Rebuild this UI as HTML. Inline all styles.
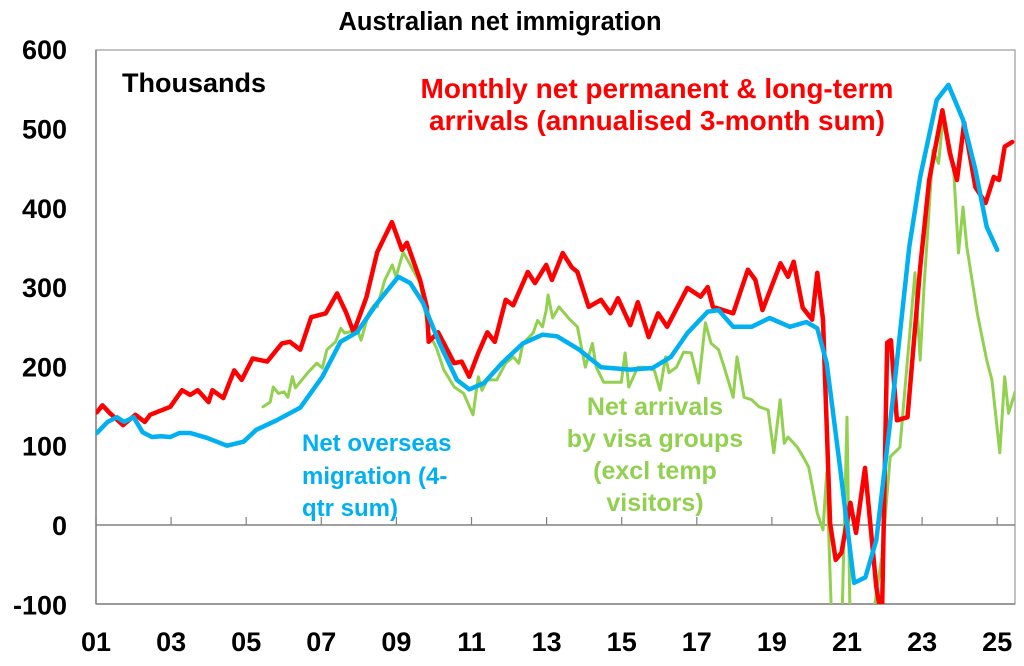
<!DOCTYPE html>
<html><head><meta charset="utf-8"><style>
html,body{margin:0;padding:0;background:#fff;}
svg text{font-family:"Liberation Sans",Arial,sans-serif;font-weight:bold;}
</style></head><body>
<svg id="chart" width="1024" height="661" viewBox="0 0 1024 661" xmlns="http://www.w3.org/2000/svg">
<defs><clipPath id="plotclip"><rect x="96" y="50" width="919" height="554"/></clipPath></defs>
<text x="500" y="30" font-size="25.5" text-anchor="middle" fill="#000">Australian net immigration</text>
<g id="axes"></g>
<g id="series" clip-path="url(#plotclip)"></g>
<text x="122" y="92" font-size="27" fill="#000">Thousands</text>
<g fill="#ff0000" font-size="28" text-anchor="middle">
<text x="657" y="98">Monthly net permanent &amp; long-term</text>
<text x="657" y="130">arrivals (annualised 3-month sum)</text>
</g>
<g fill="#00b0f0" font-size="24">
<text x="302" y="451">Net overseas</text>
<text x="302" y="484">migration (4-</text>
<text x="302" y="516">qtr sum)</text>
</g>
<g fill="#92d050" font-size="25" text-anchor="middle">
<text x="655" y="415">Net arrivals</text>
<text x="655" y="447">by visa groups</text>
<text x="655" y="479">(excl temp</text>
<text x="655" y="511">visitors)</text>
</g>
</svg>
<script>
const yTicks = [600, 500, 400, 300, 200, 100, 0, -100];
const xTickYears = [2001,2003,2005,2007,2009,2011,2013,2015,2017,2019,2021,2023,2025];
const xTickLabels = ["01","03","05","07","09","11","13","15","17","19","21","23","25"];

const redT = [2001.02,2001.17,2001.37,2001.72,2002.05,2002.30,2002.44,2002.98,2003.29,2003.51,2003.71,2004.0,2004.1,2004.39,2004.68,2004.88,2005.17,2005.56,2005.95,2006.16,2006.44,2006.73,2007.12,2007.42,2007.66,2007.86,2008.2,2008.49,2008.88,2009.15,2009.28,2009.63,2009.81,2009.86,2010.11,2010.54,2010.74,2010.94,2011.18,2011.42,2011.62,2011.91,2012.11,2012.5,2012.69,2012.99,2013.14,2013.28,2013.43,2013.67,2013.82,2014.12,2014.45,2014.7,2014.9,2015.23,2015.43,2015.72,2015.97,2016.21,2016.75,2017.1,2017.29,2017.43,2017.97,2018.36,2018.56,2018.75,2019.23,2019.43,2019.58,2019.82,2020.07,2020.21,2020.36,2020.55,2020.7,2020.85,2021.09,2021.24,2021.48,2021.78,2021.93,2022.07,2022.17,2022.33,2022.61,2022.95,2023.19,2023.54,2023.74,2023.93,2024.12,2024.42,2024.69,2024.91,2025.05,2025.2,2025.4];
const redV = [142,151,141,126,139,130,139,149,170,164,170,155,170,160,195,183,210,206,229,231,221,262,267,292,268,243,287,344,382,347,356,309,275,231,243,204,206,187,217,243,231,284,277,319,305,328,309,325,343,325,319,275,284,267,286,252,281,237,267,250,299,288,300,275,267,322,309,271,330,313,332,274,259,318,259,2,-44,-35,28,-10,72,-78,-120,230,233,132,136,325,435,523,469,435,507,426,406,439,435,477,483];

const blueT = [2001.02,2001.31,2001.56,2001.75,2002.0,2002.24,2002.49,2002.73,2002.98,2003.22,2003.51,2003.95,2004.49,2004.93,2005.27,2005.81,2006.44,2007.03,2007.51,2007.95,2008.49,2009.05,2009.37,2009.71,2010.15,2010.61,2010.94,2011.33,2011.81,2012.37,2012.89,2013.28,2013.87,2014.45,2015.23,2015.82,2016.31,2016.75,2017.29,2017.58,2017.97,2018.46,2018.94,2019.48,2019.92,2020.21,2020.46,2020.8,2021.19,2021.49,2021.78,2022.22,2022.66,2022.95,2023.39,2023.7,2024.09,2024.42,2024.72,2025.0];
const blueV = [116,130,136,130,136,117,111,112,111,116,116,110,100,105,120,132,148,187,231,243,280,313,305,280,229,183,171,179,204,229,240,238,221,199,196,198,212,242,269,271,250,250,261,250,256,248,204,78,-73,-66,-19,158,351,439,536,555,511,448,376,347];

const greenT = [2005.45,2005.64,2005.72,2005.86,2006.01,2006.11,2006.23,2006.31,2006.64,2006.88,2007.03,2007.15,2007.38,2007.52,2007.62,2007.96,2008.06,2008.26,2008.4,2008.49,2008.69,2008.89,2008.99,2009.18,2009.37,2009.63,2009.86,2010.06,2010.26,2010.54,2010.79,2011.04,2011.18,2011.28,2011.42,2011.67,2011.91,2012.11,2012.26,2012.37,2012.64,2012.76,2012.89,2012.99,2013.04,2013.16,2013.33,2013.62,2013.82,2014.03,2014.22,2014.32,2014.52,2014.99,2015.09,2015.19,2015.43,2015.63,2015.87,2016.02,2016.17,2016.26,2016.46,2016.65,2016.85,2017.05,2017.23,2017.38,2017.58,2017.73,2017.97,2018.07,2018.26,2018.46,2018.66,2018.9,2019.05,2019.22,2019.33,2019.43,2019.68,2019.83,2019.98,2020.21,2020.36,2020.46,2020.61,2020.85,2021.0,2021.09,2021.58,2021.93,2022.15,2022.41,2022.81,2022.95,2023.05,2023.29,2023.44,2023.54,2023.74,2023.84,2023.97,2024.09,2024.19,2024.47,2024.72,2024.86,2025.07,2025.2,2025.3,2025.48];
const greenV = [149,155,174,166,168,161,187,173,192,204,198,221,231,248,242,246,233,267,277,275,309,328,313,344,328,305,242,224,196,174,166,139,187,170,183,183,204,212,204,229,242,258,250,271,290,261,275,259,250,199,229,199,180,180,217,174,199,199,195,170,212,192,199,218,217,179,255,229,221,199,161,212,161,158,149,145,91,158,103,111,98,86,73,15,-6,66,-150,-150,136,-150,-150,-40,86,98,318,208,300,473,456,507,477,448,343,401,351,267,208,183,91,187,141,168];

const X0 = 96, PXY = 37.55, Y0 = 525, PXV = 0.793;
function xScale(t){ return X0 + (t - 2001) * PXY; }
function yScale(v){ return Y0 - v * PXV; }
const NS = "http://www.w3.org/2000/svg";
const axes = document.getElementById('axes');
const series = document.getElementById('series');
function mk(tag, attrs, parent){ const e = document.createElementNS(NS, tag); for (const k in attrs) e.setAttribute(k, attrs[k]); parent.appendChild(e); return e; }

let fr = mk('rect', {x:96, y:50, width:919, height:554, fill:'none', stroke:'#9a9a9a', 'stroke-width':1.2}, axes);


let ya = mk('line', {x1:96, y1:50, x2:96, y2:604, stroke:'#808080', 'stroke-width':1.5}, axes);


let xa = mk('line', {x1:96, y1:604, x2:1015, y2:604, stroke:'#808080', 'stroke-width':1.5}, axes);


let zl = mk('line', {x1:96, y1:yScale(0), x2:1015, y2:yScale(0), stroke:'#808080', 'stroke-width':1.5}, axes);



yTicks.forEach(v => {
  const t = mk('text', {x:67, y:yScale(v)+10, 'font-size':27, 'text-anchor':'end', fill:'#000'}, axes);
  t.textContent = String(v);
  
  
});
xTickYears.forEach((yr, i) => {
  const x = xScale(yr);
  const t = mk('text', {x:x, y:651, 'font-size':27, 'text-anchor':'middle', fill:'#000'}, axes);
  t.textContent = xTickLabels[i];
  
  
  const tk = mk('line', {x1:x, y1:yScale(0), x2:x, y2:yScale(0)-8, stroke:'#808080', 'stroke-width':1.2}, axes);
  
  
});

function drawLine(ts, vs, color, w, name){
  const d = ts.map((t, i) => (i ? 'L' : 'M') + xScale(t).toFixed(1) + ',' + yScale(vs[i]).toFixed(1)).join(' ');
  const p = mk('path', {d:d, fill:'none', stroke:color, 'stroke-width':w, 'stroke-linejoin':'round', 'stroke-linecap':'round'}, series);
  
  
}
drawLine(greenT, greenV, '#92d050', 3, 'visa-groups-line');
drawLine(redT, redV, '#ff0000', 4.5, 'permanent-long-term-arrivals-line');
drawLine(blueT, blueV, '#00b0f0', 4.5, 'net-overseas-migration-line');
</script>
</body></html>
